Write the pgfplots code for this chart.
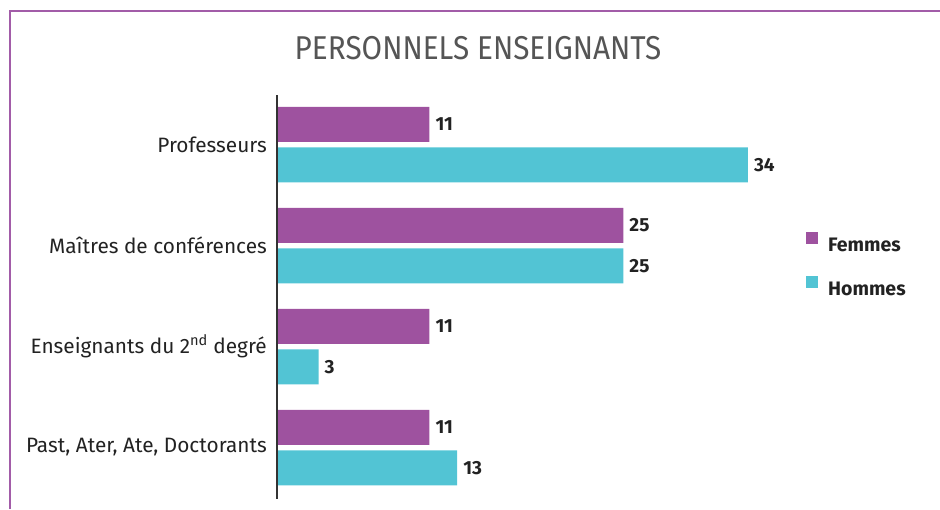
\documentclass[border=0pt]{standalone}
\usepackage{pgfplots}
\pgfplotsset{compat=1.18}
\usepackage{fontspec}
\setmainfont{Fira Sans}
\definecolor{fem}{RGB}{158,82,159}
\definecolor{hom}{RGB}{82,196,212}
\definecolor{framec}{RGB}{162,92,168}
\definecolor{titlec}{RGB}{85,85,85}
\definecolor{txt}{RGB}{34,34,34}
\begin{document}
\begin{tikzpicture}
\useasboundingbox (0,0) rectangle (940pt,-509pt);
\draw[framec, line width=2.5pt] (10pt,-509pt) -- (10pt,-11pt) -- (940pt,-11pt);
\node[text=titlec, font=\fontsize{33}{36}\selectfont] at (478pt,-48pt) {\scalebox{0.9}[1]{PERSONNELS ENSEIGNANTS}};
\begin{axis}[
  at={(277pt,-95pt)}, anchor=north west,
  x=13.85pt, y=101pt,
  xmin=0, xmax=47, ymin=-0.505, ymax=3.49,
  xbar, bar width=35pt,
  axis line style={draw=none},
  xtick=\empty,
  ytick={0,1,2,3},
  yticklabels={{Past, Ater, Ate, Doctorants},{Enseignants du 2\textsuperscript{nd} degré},{Maîtres de conférences},{Professeurs}},
  major tick length=0pt,
  yticklabel style={anchor=east, inner sep=0pt, xshift=-10pt, text=txt, font=\fontsize{20.8}{23}\selectfont},
  /pgf/number format/assume math mode=true,
  nodes near coords,
  nodes near coords style={font=\fontsize{19}{21}\selectfont\bfseries, text=txt, anchor=west, inner sep=0pt, xshift=6pt},
  legend style={at={(axis description cs:0.808,0.665)}, anchor=north west, draw=none, fill=none,
    font=\fontsize{19.5}{22}\selectfont\bfseries, text=txt, row sep=24pt,
    nodes={inner sep=0pt, text depth=0pt, text height=13pt}},
  legend cell align=left,
  legend image code/.code={\fill[#1, draw=none] (0pt,1pt) rectangle (12pt,13pt);},
  clip=false,
]
\addplot[fill=fem, draw=none, bar shift=20pt] coordinates {(11,3) (25,2) (11,1) (11,0)};
\addplot[fill=hom, draw=none, bar shift=-20.5pt] coordinates {(34,3) (25,2) (3,1) (13,0)};
\legend{\hspace{10pt}Femmes,\hspace{10pt}Hommes}
\draw[black!80, line width=2pt] (rel axis cs:0,0) -- (rel axis cs:0,1);
\end{axis}
\end{tikzpicture}
\end{document}
